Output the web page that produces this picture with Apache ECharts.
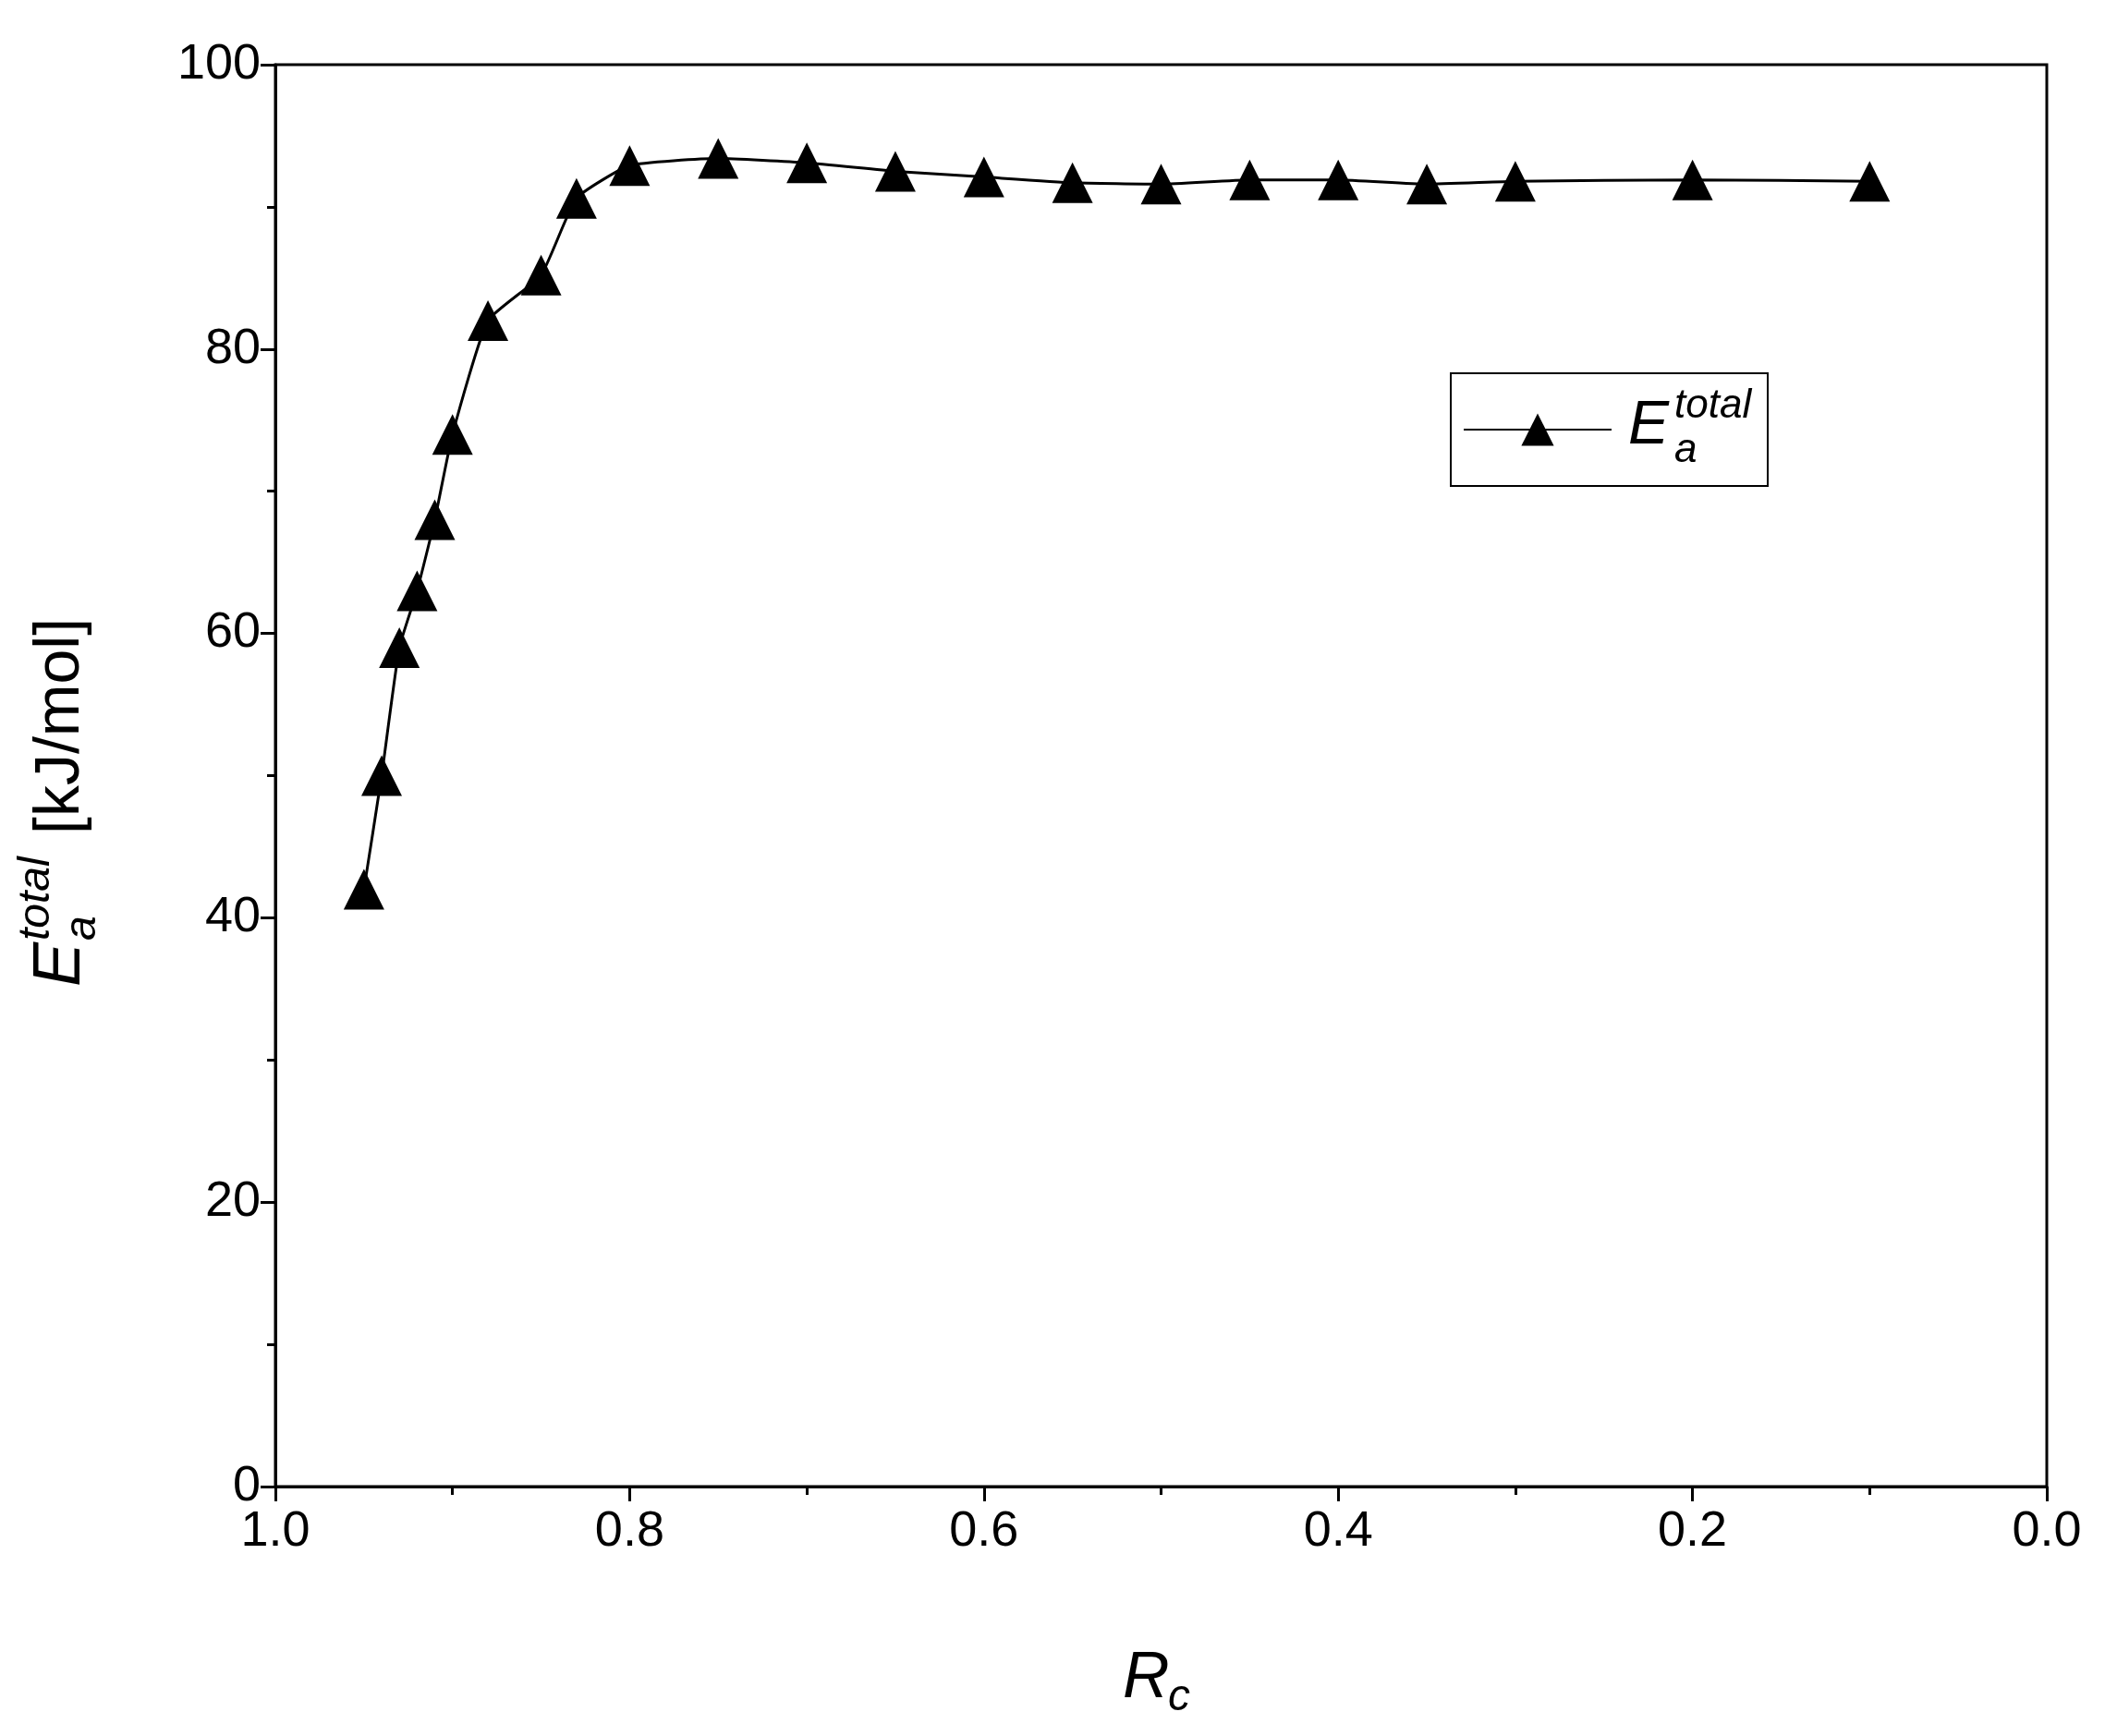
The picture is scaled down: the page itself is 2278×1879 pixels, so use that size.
<!DOCTYPE html><html><head><meta charset="utf-8"><script src="https://cdn.jsdelivr.net/npm/echarts@6/dist/echarts.min.js"></script>
<style>html,body{margin:0;padding:0;background:#fff}#c{width:2278px;height:1879px}</style></head><body><div id="c"></div><script>
const rcValues=[0.95,0.94,0.93,0.92,0.91,0.90,0.88,0.85,0.83,0.80,0.75,0.70,0.65,0.60,0.55,0.50,0.45,0.40,0.35,0.30,0.20,0.10];
const eaValues=[42,50,59,63,68,74,82,85.2,90.6,92.9,93.4,93.1,92.5,92.1,91.7,91.6,91.9,91.9,91.6,91.8,91.9,91.8];
const F='"Liberation Sans", Arial, sans-serif';
const chart=echarts.init(document.getElementById('c'));
chart.setOption({
  animation:false,
  grid:{left:298,right:63,top:70,bottom:270,show:true,borderColor:'#000',borderWidth:3,containLabel:false},
  xAxis:{type:'value',min:0,max:1,interval:0.2,inverse:true,
    axisLine:{onZero:false,lineStyle:{color:'#000',width:3}},
    axisTick:{inside:false,length:16,lineStyle:{width:3,color:'#000'}},
    minorTick:{show:true,splitNumber:2,length:9,lineStyle:{width:3,color:'#000'}},
    splitLine:{show:false},
    axisLabel:{fontFamily:F,fontSize:54,color:'#000',margin:22,formatter:v=>v.toFixed(1)}},
  yAxis:{type:'value',min:0,max:100,interval:20,
    axisLine:{onZero:false,lineStyle:{color:'#000',width:3}},
    axisTick:{inside:false,length:16,lineStyle:{width:3,color:'#000'}},
    minorTick:{show:true,splitNumber:2,length:9,lineStyle:{width:3,color:'#000'}},
    splitLine:{show:false},
    axisLabel:{fontFamily:F,fontSize:54,color:'#000',margin:16}},
  legend:{left:1578,top:438,itemWidth:160,itemHeight:44,itemGap:0,formatter:()=>'',textStyle:{fontSize:10},data:['E']},
  series:[{name:'E',type:'line',smooth:0.15,data:rcValues.map((x,i)=>[x,eaValues[i]]),
    symbol:'triangle',symbolSize:44,lineStyle:{color:'#000',width:3},itemStyle:{color:'#000'}}],
  graphic:[
    {type:'rect',shape:{x:1570,y:404,width:343,height:122},style:{fill:'none',stroke:'#000',lineWidth:2}},
    {type:'text',x:1762,y:462,style:{text:'E',font:'italic 66px '+F,fill:'#000',textVerticalAlign:'middle'}},
    {type:'text',x:1812,y:440,style:{text:'total',font:'italic 44px '+F,fill:'#000',textVerticalAlign:'middle'}},
    {type:'text',x:1812,y:488,style:{text:'a',font:'italic 44px '+F,fill:'#000',textVerticalAlign:'middle'}},
    {type:'text',x:1215,y:1818,style:{text:'R',font:'italic 70px '+F,fill:'#000',textVerticalAlign:'middle'}},
    {type:'text',x:1264,y:1838,style:{text:'c',font:'italic 48px '+F,fill:'#000',textVerticalAlign:'middle'}},
    {type:'group',x:66,y:1068,rotation:Math.PI/2,children:[
      {type:'text',x:0,y:0,style:{text:'E',font:'italic 72px '+F,fill:'#000',textVerticalAlign:'middle'}},
      {type:'text',x:50,y:-26,style:{text:'total',font:'italic 48px '+F,fill:'#000',textVerticalAlign:'middle'}},
      {type:'text',x:50,y:24,style:{text:'a',font:'italic 48px '+F,fill:'#000',textVerticalAlign:'middle'}},
      {type:'text',x:165,y:0,style:{text:'[kJ/mol]',font:'68px '+F,fill:'#000',textVerticalAlign:'middle'}}
    ]}
  ]
});
</script></body></html>
